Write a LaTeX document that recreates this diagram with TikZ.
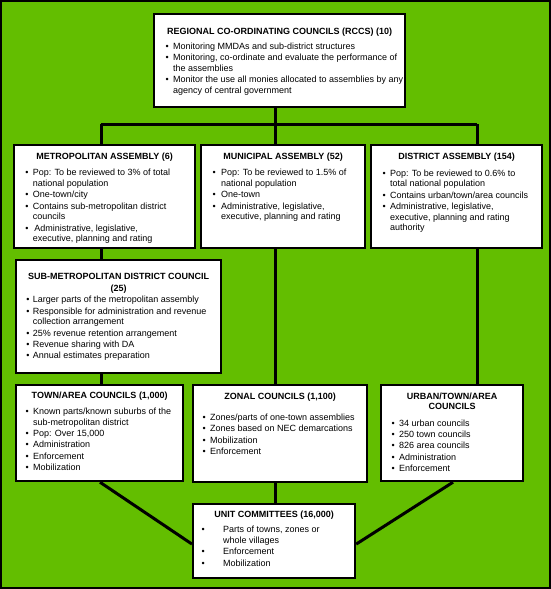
\documentclass[tikz,border=0pt]{standalone}
\usepackage{fontspec}
\setmainfont{Liberation Sans}
\usetikzlibrary{calc}
\definecolor{bggreen}{RGB}{99,190,0}
\newlength\bui
\newlength\txi
\newcommand\bl[1]{\par\vspace{0.8pt}\noindent\hspace*{\bui}\hbox to\dimexpr\txi-\bui\relax{\textbullet\hss}#1}
\newcommand\cl[1]{\par\noindent\hspace*{\txi}#1}
\newcommand\bxt[8]{\parbox[t][#2][t]{#1}{\setlength\parskip{0pt}\setlength\parindent{0pt}\fontsize{9}{10.6}\selectfont\setlength\bui{#4}\setlength\txi{#5}%
{\centering\bfseries\baselineskip=11pt\rule{0pt}{#3}#6\par}\vspace{#7}#8}}
\tikzset{
  box/.style={draw=black, line width=2.2pt, fill=white, inner sep=0pt, anchor=north west},
  conn/.style={draw=black, line width=3pt}
}
\begin{document}
\begin{tikzpicture}[x=1pt,y=-1pt]
\useasboundingbox (0,0) rectangle (551,589);
\fill[bggreen] (0,0) rectangle (551,589);
\draw[line width=2pt] (1,1) rectangle (550,588);
% column coordinates
\coordinate (cA) at (101,124);
\coordinate (cB) at (275,124);
\coordinate (cC) at (477,124);
\coordinate (cT) at (100,0);
\coordinate (cU) at (453,0);
% boxes
\node[box] (rccs) at (153,13) {\bxt{251pt}{93pt}{20.3pt}{11.4pt}{19pt}{REGIONAL CO-ORDINATING COUNCILS (RCCS) (10)}{3.5pt}{%
\bl{Monitoring MMDAs and sub-district structures}
\bl{Monitoring, co-ordinate and evaluate the performance of}\cl{the assemblies}
\bl{Monitor the use all monies allocated to assemblies by any}\cl{agency of central government}}};
\node[box] (metro) at (13,144) {\bxt{181pt}{103pt}{14.3pt}{11.4pt}{18.7pt}{METROPOLITAN ASSEMBLY (6)}{5pt}{%
\bl{Pop: To be reviewed to 3\% of total}\cl{national population}
\bl{One-town/city}
\bl{Contains sub-metropolitan district}\cl{councils}
\bl{\,Administrative, legislative,}\cl{executive, planning and rating}}};
\node[box] (muni) at (200,144) {\bxt{164pt}{103pt}{14.3pt}{11.4pt}{20pt}{MUNICIPAL ASSEMBLY (52)}{5pt}{%
\bl{Pop: To be reviewed to 1.5\% of}\cl{national population}
\bl{One-town}
\bl{Administrative, legislative,}\cl{executive, planning and rating}}};
\node[box] (dist) at (370,144) {\bxt{171pt}{103pt}{14.3pt}{11.4pt}{19pt}{DISTRICT ASSEMBLY (154)}{5.5pt}{%
\bl{Pop: To be reviewed to 0.6\% to}\cl{total national population}
\bl{Contains urban/town/area councils}
\bl{Administrative, legislative,}\cl{executive, planning and rating}\cl{authority}}};
\node[box] (sub) at (15,259) {\bxt{205pt}{113pt}{19.3pt}{10.4pt}{16.7pt}{SUB-METROPOLITAN DISTRICT COUNCIL\\[1.3pt](25)}{-0.5pt}{%
\bl{Larger parts of the metropolitan assembly}
\bl{Responsible for administration and revenue}\cl{collection arrangement}
\bl{25\% revenue retention arrangement}
\bl{Revenue sharing with DA}
\bl{Annual estimates preparation}}};
\node[box] (town) at (15,384) {\bxt{167pt}{96pt}{13.6pt}{9.4pt}{17pt}{TOWN/AREA COUNCILS (1,000)}{4.3pt}{%
\bl{Known parts/known suburbs of the}\cl{sub-metropolitan district}
\bl{Pop: Over 15,000}
\bl{Administration}
\bl{Enforcement}
\bl{Mobilization}}};
\node[box] (zonal) at (192,384) {\bxt{174pt}{97pt}{14.3pt}{9.4pt}{17pt}{ZONAL COUNCILS (1,100)}{9.5pt}{%
\bl{Zones/parts of one-town assemblies}
\bl{Zones based on NEC demarcations}
\bl{Mobilization}
\bl{Enforcement}}};
\node[box] (urban) at (380,384) {\bxt{142pt}{96pt}{14.3pt}{10.4pt}{18pt}{URBAN/TOWN/AREA\\[-1pt]COUNCILS}{5.3pt}{%
\bl{34 urban councils}
\bl{250 town councils}
\bl{826 area councils}
\bl{Administration}
\bl{Enforcement}}};
\node[box] (unit) at (192,503) {\bxt{162pt}{74pt}{13pt}{8.4pt}{30pt}{UNIT COMMITTEES (16,000)}{4.3pt}{%
\bl{Parts of towns, zones or}\cl{whole villages}
\bl{Enforcement}
\bl{Mobilization}}};
% connectors
\path[conn] (rccs.south -| cB) -- (cB);
\path[conn] (cA) -- (cC);
\path[conn] (cA) -- (metro.north -| cA);
\path[conn] (cB) -- (muni.north -| cB);
\path[conn] (cC) -- (dist.north -| cC);
\path[conn] (metro.south -| cA) -- (sub.north -| cA);
\path[conn] (sub.south -| cA) -- (town.north -| cA);
\path[conn] (muni.south -| cB) -- (zonal.north -| cB);
\path[conn] (dist.south -| cC) -- (urban.north -| cC);
\path[conn] (zonal.south -| cB) -- (unit.north -| cB);
\path[conn] (town.south -| cT) -- ($(unit.west)+(0,3)$);
\path[conn] (urban.south -| cU) -- ($(unit.east)+(0,3)$);
\end{tikzpicture}
\end{document}
